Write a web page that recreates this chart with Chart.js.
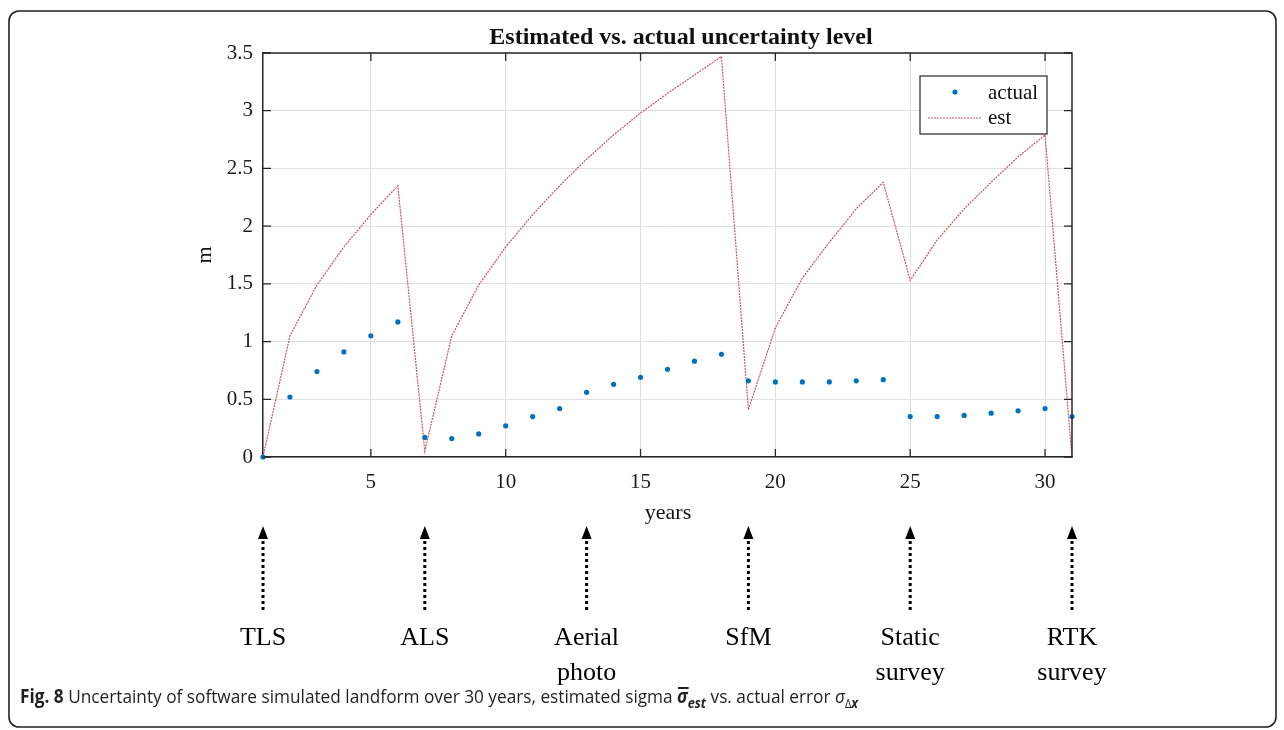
<!DOCTYPE html>
<html>
<head>
<meta charset="utf-8">
<script src="https://cdn.jsdelivr.net/npm/chart.js@4.4.1/dist/chart.umd.min.js"></script>
<style>
  html, body { margin: 0; padding: 0; background: #fff; }
  #wrap { width: 1284px; height: 730px; }
</style>
</head>
<body>
<div id="wrap"><canvas id="fig" width="1284" height="730"></canvas></div>
<script>
// Data
const years = [1, 2, 3, 4, 5, 6, 7, 8, 9, 10, 11, 12, 13, 14, 15, 16, 17, 18, 19, 20, 21, 22, 23, 24, 25, 26, 27, 28, 29, 30, 31];
const actual = [0, 0.52, 0.74, 0.91, 1.05, 1.17, 0.17, 0.16, 0.20, 0.27, 0.35, 0.42, 0.56, 0.63, 0.69, 0.76, 0.83, 0.89,
                0.66, 0.65, 0.65, 0.65, 0.66, 0.67, 0.35, 0.35, 0.36, 0.38, 0.40, 0.42, 0.35];
const est = [0, 1.05, 1.49, 1.82, 2.10, 2.35, 0.05, 1.05, 1.49, 1.82, 2.10, 2.35, 2.58, 2.79, 2.98, 3.15, 3.31, 3.47,
             0.41, 1.12, 1.55, 1.86, 2.15, 2.38, 1.53, 1.88, 2.15, 2.38, 2.60, 2.79, 0];
const xTicks = [5, 10, 15, 20, 25, 30];
const yTicks = [0, 0.5, 1, 1.5, 2, 2.5, 3, 3.5];
const surveyYears = [1, 7, 13, 19, 25, 31];
const surveyLabels = [["TLS"], ["ALS"], ["Aerial", "photo"], ["SfM"], ["Static", "survey"], ["RTK", "survey"]];

const serif = '"Liberation Serif", "Times New Roman", serif';
const sans = '"Open Sans", "Noto Sans", sans-serif';
const dotBlue = "#0072BD";
const estRed = "rgba(206, 62, 78, 0.9)";
const axisCol = "#262626";

// Overlay: box, inner ticks, legend, titles, survey arrows, caption, frame
const overlay = {
    id: "overlay",
    afterDraw(chart) {
        const { ctx, chartArea: a, scales } = chart;
        const xs = scales.x, ys = scales.y;
        ctx.save();

        // top/right box lines
        ctx.strokeStyle = axisCol;
        ctx.lineWidth = 1.5;
        ctx.beginPath();
        ctx.moveTo(a.left, a.top); ctx.lineTo(a.right, a.top); ctx.lineTo(a.right, a.bottom);
        ctx.stroke();

        // inward ticks
        ctx.lineWidth = 1.3;
        ctx.beginPath();
        xTicks.forEach(v => {
            const px = xs.getPixelForValue(v);
            ctx.moveTo(px, a.bottom); ctx.lineTo(px, a.bottom - 8);
            ctx.moveTo(px, a.top); ctx.lineTo(px, a.top + 8);
        });
        yTicks.forEach(v => {
            const py = ys.getPixelForValue(v);
            ctx.moveTo(a.left, py); ctx.lineTo(a.left + 8, py);
            ctx.moveTo(a.right, py); ctx.lineTo(a.right - 8, py);
        });
        ctx.stroke();

        // legend box
        const lx = 920, ly = 76, lw = 127, lh = 58;
        ctx.fillStyle = "#fff";
        ctx.fillRect(lx, ly, lw, lh);
        ctx.strokeStyle = axisCol;
        ctx.lineWidth = 1.2;
        ctx.strokeRect(lx, ly, lw, lh);
        ctx.fillStyle = dotBlue;
        ctx.beginPath(); ctx.arc(955, 92, 2.6, 0, Math.PI * 2); ctx.fill();
        ctx.strokeStyle = estRed;
        ctx.lineWidth = 1.2;
        ctx.setLineDash([2, 1]);
        ctx.beginPath(); ctx.moveTo(928, 118); ctx.lineTo(982, 118); ctx.stroke();
        ctx.setLineDash([]);
        ctx.fillStyle = "#111";
        ctx.font = "21px " + serif;
        ctx.textAlign = "left";
        ctx.textBaseline = "middle";
        ctx.fillText(chart.data.datasets[0].label, 988, 93);
        ctx.fillText(chart.data.datasets[1].label, 988, 118);

        // title and axis titles
        ctx.textAlign = "center";
        ctx.font = "bold 24px " + serif;
        ctx.fillText("Estimated vs. actual uncertainty level", 681, 38);
        ctx.font = "22px " + serif;
        ctx.fillText("years", 668, 513);
        ctx.save();
        ctx.translate(205, 255);
        ctx.rotate(-Math.PI / 2);
        ctx.fillText("m", 0, 0);
        ctx.restore();

        // survey arrows and labels
        ctx.fillStyle = "#000";
        ctx.strokeStyle = "#000";
        surveyYears.forEach((yr, i) => {
            const px = xs.getPixelForValue(yr);
            ctx.lineWidth = 3;
            ctx.setLineDash([3, 3]);
            ctx.beginPath(); ctx.moveTo(px, 610); ctx.lineTo(px, 538); ctx.stroke();
            ctx.setLineDash([]);
            ctx.beginPath();
            ctx.moveTo(px, 526); ctx.lineTo(px - 5, 539); ctx.lineTo(px + 5, 539); ctx.closePath();
            ctx.fill();
            ctx.font = "26px " + serif;
            surveyLabels[i].forEach((t, j) => ctx.fillText(t, px, 638 + j * 35));
        });

        // caption
        const parts = [
            { t: "Fig. 8", f: "bold 19px " + sans, dy: 0 },
            { t: " Uncertainty of software simulated landform over 30 years, estimated sigma ", f: "19px " + sans, dy: 0 },
            { t: "\u03C3", f: "bold italic 19px " + sans, dy: 0, bar: true },
            { t: "est", f: "bold italic 14px " + sans, dy: 5 },
            { t: " vs. actual error ", f: "19px " + sans, dy: 0 },
            { t: "\u03C3", f: "italic 19px " + sans, dy: 0 },
            { t: "\u0394", f: "12px " + sans, dy: 5 },
            { t: "x", f: "bold italic 14px " + sans, dy: 5 }
        ];
        let total = 0;
        parts.forEach(p => { ctx.font = p.f; p.w = ctx.measureText(p.t).width; total += p.w; });
        const sx = 838 / total;
        ctx.save();
        ctx.translate(20, 703);
        ctx.scale(sx, 1);
        ctx.textAlign = "left";
        ctx.textBaseline = "alphabetic";
        ctx.fillStyle = "#231f20";
        let cx = 0;
        parts.forEach(p => {
            ctx.font = p.f;
            ctx.fillText(p.t, cx, p.dy);
            if (p.bar) ctx.fillRect(cx + 1, -16, p.w, 2);
            cx += p.w;
        });
        ctx.restore();

        // outer rounded frame
        ctx.strokeStyle = "#222";
        ctx.lineWidth = 1.6;
        ctx.beginPath();
        ctx.roundRect(9, 11, 1267, 716, 10);
        ctx.stroke();

        ctx.restore();
    }
};

const canvas = document.getElementById("fig");
new Chart(canvas, {
    type: "scatter",
    data: {
        datasets: [
            {
                label: "actual",
                data: years.map((x, i) => ({ x: x, y: actual[i] })),
                backgroundColor: dotBlue,
                borderWidth: 0,
                pointRadius: 2.6,
                clip: false
            },
            {
                label: "est",
                data: years.map((x, i) => ({ x: x, y: est[i] })),
                showLine: true,
                borderColor: estRed,
                borderWidth: 1.2,
                borderDash: [2, 1],
                pointRadius: 0,
                tension: 0
            }
        ]
    },
    options: {
        responsive: false,
        animation: false,
        layout: { padding: { left: 0, top: 53, right: 212, bottom: 0 } },
        plugins: {
            legend: { display: false },
            title: { display: false },
            tooltip: { enabled: false }
        },
        scales: {
            x: {
                type: "linear",
                min: 1,
                max: 31,
                afterBuildTicks: (scale) => { scale.ticks = xTicks.map(v => ({ value: v })); },
                afterFit: (scale) => { scale.height = 273; },
                grid: { color: "#e0e0e0", lineWidth: 1, drawTicks: false },
                border: { color: axisCol, width: 1.5 },
                ticks: { color: "#1a1a1a", padding: 13, font: { family: serif, size: 21 } }
            },
            y: {
                min: 0,
                max: 3.5,
                afterBuildTicks: (scale) => { scale.ticks = yTicks.map(v => ({ value: v })); },
                afterFit: (scale) => { scale.width = 263; },
                grid: { color: "#e0e0e0", lineWidth: 1, drawTicks: false },
                border: { color: axisCol, width: 1.5 },
                ticks: {
                    color: "#1a1a1a",
                    padding: 10,
                    font: { family: serif, size: 21 },
                    callback: (v) => String(v)
                }
            }
        }
    },
    plugins: [overlay]
});
</script>
</body>
</html>
